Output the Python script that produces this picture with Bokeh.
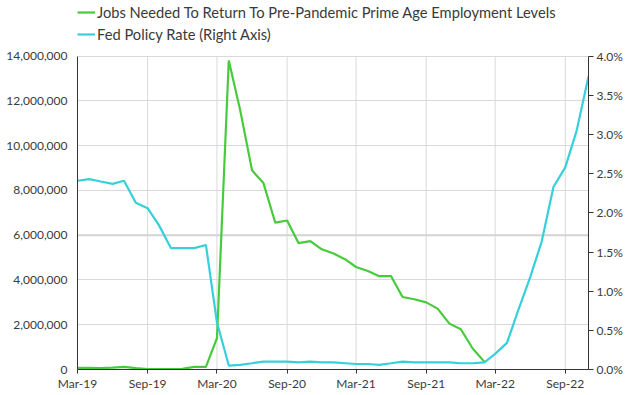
import pandas as pd
from bokeh.plotting import figure
from bokeh.models import (LinearAxis, Range1d, NumeralTickFormatter, PrintfTickFormatter,
                          FixedTicker, DatetimeTickFormatter, Legend, LegendItem, Span,
                          ColumnDataSource)
from bokeh.embed import file_html
from bokeh.resources import INLINE

# ---------------- data ----------------
month_labels = pd.date_range("2019-03-01", "2022-11-01", freq="MS")

jobs_needed = [
    70000, 70000, 60000, 80000, 120000, 60000, 20000, 20000, 20000, 30000,
    120000, 120000, 1400000, 13810000, 11580000, 8900000, 8330000, 6560000,
    6660000, 5650000, 5740000, 5370000, 5180000, 4920000, 4580000, 4400000,
    4170000, 4170000, 3240000, 3140000, 3000000, 2720000, 2050000, 1800000,
    940000, 340000,
]

fed_rate = [
    2.41, 2.43, 2.40, 2.37, 2.41, 2.13, 2.06, 1.84, 1.55, 1.55, 1.55, 1.59,
    0.60, 0.05, 0.06, 0.08, 0.10, 0.10, 0.10, 0.09, 0.10, 0.09, 0.09, 0.08,
    0.07, 0.07, 0.06, 0.08, 0.10, 0.09, 0.09, 0.09, 0.09, 0.08, 0.08, 0.09,
    0.20, 0.34, 0.76, 1.18, 1.63, 2.33, 2.58, 3.05, 3.74,
]

x_tick_labels = ["Mar-19", "Sep-19", "Mar-20", "Sep-20", "Mar-21", "Sep-21", "Mar-22", "Sep-22"]
left_ticks = [0, 2000000, 4000000, 6000000, 8000000, 10000000, 12000000, 14000000]
right_ticks = [0.0, 0.5, 1.0, 1.5, 2.0, 2.5, 3.0, 3.5, 4.0]

series_names = ["Jobs Needed To Return To Pre-Pandemic Prime Age Employment Levels",
                "Fed Policy Rate (Right Axis)"]

# ---------------- layout constants ----------------
W, H = 630, 395
B_LEFT, B_RIGHT, B_BOTTOM = 77, 42, 26
FRAME_H = H - B_BOTTOM            # frame runs to the top so the legend can live there
PLOT_TOP = 55.7                   # pixel row where the data area starts
scale = FRAME_H / (FRAME_H - PLOT_TOP)

GREEN = "#47cb3c"
CYAN = "#36d0dd"
TXT = "#3a3a3a"
AXC = "#333333"
GRID = "#d9d9d9"

dates = [d.to_pydatetime() for d in month_labels]
tick_dates = pd.to_datetime(x_tick_labels, format="%b-%y")
tick_ms = [t.timestamp() * 1000.0 for t in tick_dates]

p = figure(width=W, height=H, x_axis_type="datetime", output_backend="svg",
           toolbar_location=None,
           x_range=Range1d(dates[0], dates[-1]),
           y_range=Range1d(left_ticks[0], left_ticks[-1] * scale),
           min_border_left=B_LEFT, min_border_right=B_RIGHT, min_border_top=0,
           min_border_bottom=B_BOTTOM)
p.outline_line_color = None
p.background_fill_color = "white"

p.extra_y_ranges = {"rate": Range1d(right_ticks[0], right_ticks[-1] * scale)}

# left axis
la = p.left[0]
la.ticker = FixedTicker(ticks=left_ticks)
la.formatter = NumeralTickFormatter(format="0,0")
la.bounds = (left_ticks[0], left_ticks[-1])
la.major_tick_out = 0
la.major_tick_in = 0
la.minor_tick_out = 0
la.minor_tick_in = 0
la.axis_line_color = AXC
la.major_label_standoff = 10

# bottom axis
ba = p.below[0]
ba.ticker = FixedTicker(ticks=tick_ms)
ba.formatter = DatetimeTickFormatter(months="%b-%y", days="%b-%y", years="%b-%y")
ba.major_tick_out = 4
ba.major_tick_in = 0
ba.minor_tick_out = 0
ba.minor_tick_in = 0
ba.axis_line_color = AXC
ba.major_tick_line_color = AXC
ba.major_label_standoff = 2

# right axis
ra = LinearAxis(y_range_name="rate", ticker=FixedTicker(ticks=right_ticks),
                formatter=PrintfTickFormatter(format="%.1f%%"),
                bounds=(right_ticks[0], right_ticks[-1]))
ra.major_tick_out = 5
ra.major_tick_in = 0
ra.minor_tick_out = 0
ra.minor_tick_in = 0
ra.axis_line_color = AXC
ra.major_tick_line_color = AXC
ra.major_label_standoff = 3
p.add_layout(ra, "right")

for ax in (la, ba, ra):
    ax.major_label_text_font = "Lato"
    ax.major_label_text_font_size = "12px"
    ax.major_label_text_color = TXT

# grids: horizontal from the left ticks, vertical drawn only up to the top tick
p.ygrid.ticker = FixedTicker(ticks=left_ticks)
p.ygrid.grid_line_color = GRID
p.ygrid.grid_line_width = 1
p.xgrid.grid_line_color = None
n_t = len(tick_ms)
p.segment(x0=tick_ms, x1=tick_ms, y0=[left_ticks[0]] * n_t, y1=[left_ticks[-1]] * n_t,
          line_color=GRID, line_width=1, level="underlay")

p.add_layout(Span(location=left_ticks[3], dimension="width", line_color="#d3d3d3",
                  line_width=2, level="underlay"))

# lines
src_jobs = ColumnDataSource(dict(x=dates[:len(jobs_needed)], y=jobs_needed))
src_rate = ColumnDataSource(dict(x=dates, y=fed_rate))
g = p.line("x", "y", source=src_jobs, line_color=GREEN, line_width=2.2)
c = p.line("x", "y", source=src_rate, line_color=CYAN, line_width=2.2, y_range_name="rate")

legend = Legend(items=[LegendItem(label=series_names[0], renderers=[g]),
                       LegendItem(label=series_names[1], renderers=[c])],
                location=(0, FRAME_H - 44), orientation="vertical")
legend.label_text_font = "Lato"
legend.label_text_font_size = "14.7px"
legend.label_text_color = TXT
legend.glyph_width = 18
legend.glyph_height = 20
legend.label_height = 20
legend.label_standoff = 2
legend.spacing = 2
legend.padding = 0
legend.margin = 0
legend.border_line_color = None
legend.background_fill_alpha = 0
p.add_layout(legend, "center")

open("out.html", "w").write(file_html(p, INLINE))
